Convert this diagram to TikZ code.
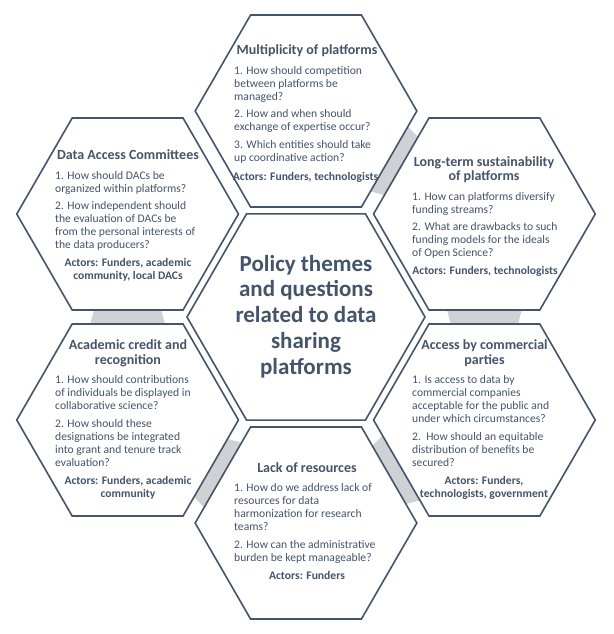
\documentclass[tikz,border=0pt]{standalone}
\usepackage{fontspec}
\setmainfont{Carlito}
\usetikzlibrary{shapes.geometric,calc}
\definecolor{ink}{RGB}{68,84,106}
\definecolor{linkgrey}{RGB}{207,209,213}
\pgfdeclarelayer{bg}
\pgfsetlayers{bg,main}
\tikzset{
  hexo/.style={regular polygon, regular polygon sides=6, minimum size=221.7pt, draw=ink, fill=white, line width=1.6pt, inner sep=0pt, outer sep=0pt},
  hexc/.style={hexo, minimum size=238pt},
  ttl/.style={font=\fontsize{14}{15}\selectfont\bfseries, text=ink, anchor=base, inner sep=0pt},
  bdy/.style={font=\fontsize{11.6}{13}\selectfont, text=ink, anchor=base west, inner sep=0pt},
  act/.style={font=\fontsize{11.6}{13}\selectfont\bfseries, text=ink, anchor=base, inner sep=0pt},
  ctr/.style={font=\fontsize{23}{26}\selectfont\bfseries, text=ink, anchor=base, inner sep=0pt},
  linkband/.style={fill=linkgrey, draw=none}
}
\newcommand\hexlink[2]{%
  \path ($(#1.center)!92pt!(#2.center)$) coordinate (#1-#2-s)
        ($(#1.center)!114pt!(#2.center)$) coordinate (#1-#2-e);
  \begin{pgfonlayer}{bg}
  \fill[linkband] ($(#1-#2-s)!38.5pt!90:(#2.center)$) -- ($(#1-#2-e)!32.5pt!90:(#2.center)$)
     -- ($(#1-#2-e)!32.5pt!-90:(#2.center)$) -- ($(#1-#2-s)!38.5pt!-90:(#2.center)$) -- cycle;
  \end{pgfonlayer}}
\begin{document}
\begin{tikzpicture}[x=1pt,y=-1pt]
\useasboundingbox (0,0) rectangle (613,634);
% hexagons
\node[hexc] (C) at (306,317) {};
\node[hexo] (T) at (306,111) {};
\node[hexo] (TR) at (484.4,214) {};
\node[hexo] (BR) at (484.4,420) {};
\node[hexo] (B) at (306,523) {};
\node[hexo] (BL) at (127.6,420) {};
\node[hexo] (TL) at (127.6,214) {};
% grey links
\hexlink{T}{TR}
\hexlink{TR}{BR}
\hexlink{BR}{B}
\hexlink{B}{BL}
\hexlink{BL}{TL}
% centre
\foreach [count=\i] \l in {Policy themes,and questions,related to data,sharing,platforms}
  \node[ctr] (C-\i) at (306,{271+25.75*(\i-1)}) {\l};
% top
\node[ttl] (T-t) at (307,54.5) {Multiplicity of platforms};
\foreach [count=\i] \l/\y in {1. How should competition/74.5,between platforms be/87.5,managed?/100.5,
   2. How and when should/117.5,exchange of expertise occur?/130.5,
   3. Which entities should take/148.5,up coordinative action?/161.5}
  \node[bdy] (T-\i) at (234,\y) {\l};
\node[act] (T-a) at (305.5,180.5) {Actors: Funders, technologists};
% top left
\node[ttl] (TL-t) at (128,159.5) {Data Access Committees};
\foreach [count=\i] \l/\y in {1. How should DACs be/179.5,organized within platforms?/192.5,
   2. How independent should/209.5,the evaluation of DACs be/222.5,
   from the personal interests of/235.5,the data producers?/248.5}
  \node[bdy] (TL-\i) at (55,\y) {\l};
\node[act] (TL-a1) at (128,266.5) {Actors: Funders, academic};
\node[act] (TL-a2) at (128,279.5) {community, local DACs};
% top right
\node[ttl] (TR-t1) at (484,166.5) {Long-term sustainability};
\node[ttl] (TR-t2) at (484,180.5) {of platforms};
\foreach [count=\i] \l/\y in {1. How can platforms diversify/200.5,funding streams?/213.5,
   2. What are drawbacks to such/230.5,funding models for the ideals/243.5,of Open Science?/256.5}
  \node[bdy] (TR-\i) at (412,\y) {\l};
\node[act] (TR-a) at (485,274.5) {Actors: Funders, technologists};
% bottom left
\node[ttl] (BL-t1) at (128,349.5) {Academic credit and};
\node[ttl] (BL-t2) at (128,364.5) {recognition};
\foreach [count=\i] \l/\y in {1. How should contributions/383.5,of individuals be displayed in/396.5,
   collaborative science?/409.5,2. How should these/427.5,designations be integrated/440.5,
   into grant and tenure track/453.5,evaluation?/466.5}
  \node[bdy] (BL-\i) at (55,\y) {\l};
\node[act] (BL-a1) at (128,484.5) {Actors: Funders, academic};
\node[act] (BL-a2) at (128,497.5) {community};
% bottom right
\node[ttl] (BR-t1) at (484.5,349.5) {Access by commercial};
\node[ttl] (BR-t2) at (484.5,364.5) {parties};
\foreach [count=\i] \l/\y in {1. Is access to data by/383.5,commercial companies/396.5,
   acceptable for the public and/409.5,under which circumstances?/422.5,
   2.\ \ How should an equitable/440.5,distribution of benefits be/453.5,secured?/466.5}
  \node[bdy] (BR-\i) at (412,\y) {\l};
\node[act] (BR-a1) at (484,484.5) {Actors: Funders,};
\node[act] (BR-a2) at (484,497.5) {technologists, government};
% bottom
\node[ttl] (B-t) at (307,472.5) {Lack of resources};
\foreach [count=\i] \l/\y in {1. How do we address lack of/491.5,resources for data/504.5,
   harmonization for research/517.5,teams?/530.5,
   2. How can the administrative/548.5,burden be kept manageable?/561.5}
  \node[bdy] (B-\i) at (234,\y) {\l};
\node[act] (B-a) at (307,579.5) {Actors: Funders};
\end{tikzpicture}
\end{document}
